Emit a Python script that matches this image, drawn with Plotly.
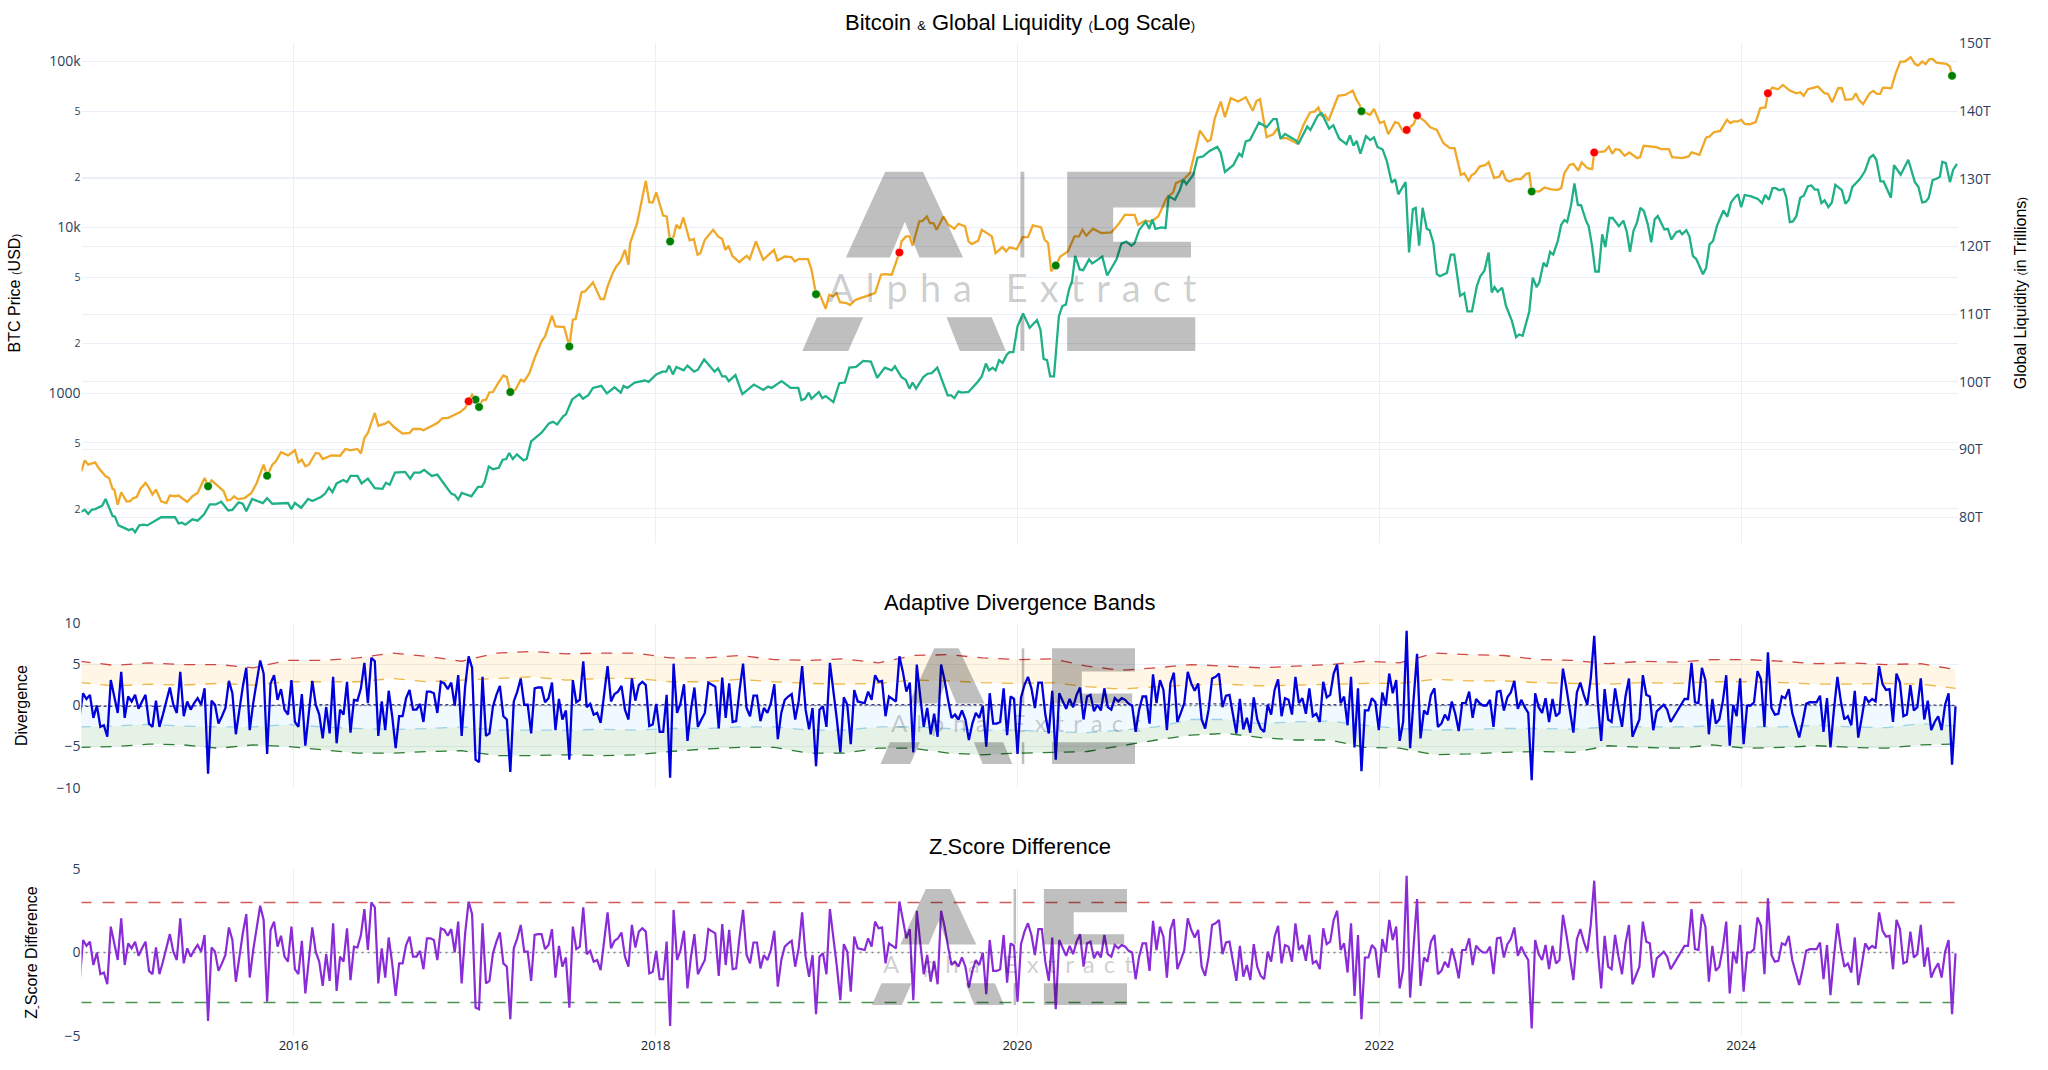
import numpy as np
import pandas as pd
import plotly.graph_objects as go
from plotly.subplots import make_subplots

FIRST_WEEK = pd.Timestamp("2014-10-26")
DAYS_PER_STEP = 7.013

# (week number, log10 of BTC price in USD)
btc_points = [
    (0.5,2.528),(1.5,2.594),(2.5,2.568),(4.5,2.582),(5.5,2.548),(7.5,2.498),(8.5,2.488),(9.5,2.422),(10,2.418),(11,2.327),
    (12,2.402),(13.5,2.347),(14.5,2.347),(15.5,2.367),(16.5,2.373),(17.5,2.422),(19,2.458),(20,2.428),(21,2.388),(22,2.418),
    (23.5,2.347),(25,2.337),(26,2.382),(27.5,2.378),(28.5,2.382),(31,2.343),(32.5,2.378),(34,2.398),(36,2.488),(37,2.438),
    (38,2.474),(39.5,2.448),(41.5,2.408),(42.5,2.353),(43.5,2.357),(44.5,2.378),(45.5,2.361),(47.5,2.367),(49.5,2.398),(51,2.458),
    (53,2.568),(54,2.502),(55.5,2.568),(56.5,2.588),(58,2.643),(60,2.624),(62,2.655),(63,2.582),(64,2.598),(65,2.558),
    (66,2.568),(68,2.639),(69,2.635),(70,2.602),(72.5,2.624),(75,2.622),(76.5,2.663),(78,2.655),(80,2.663),(81,2.635),
    (82,2.729),(83,2.759),(85,2.880),(86,2.803),(88,2.815),(89,2.829),(90.5,2.795),(93,2.755),(95,2.759),(96,2.783),
    (98,2.783),(99,2.775),(101,2.795),(103,2.819),(104.5,2.849),(106,2.849),(107.5,2.865),(109.5,2.884),(111,2.910),(112,2.950),
    (113,2.990),(114,2.960),(115,2.916),(116,2.956),(117,2.960),(118,3.004),(119,3.006),(120.5,3.060),(122,3.106),(123,3.096),
    (124,3.006),(125.5,3.020),(127,3.080),(128,3.070),(129.5,3.120),(131,3.211),(133,3.311),(134,3.341),(136,3.466),(137,3.402),
    (139.5,3.398),(141,3.281),(142,3.442),(142.8,3.446),(144.5,3.608),(145.5,3.612),(147.8,3.667),(150,3.566),(151,3.566),(152,3.643),
    (153.5,3.723),(154.5,3.763),(155.7,3.793),(157,3.863),(158,3.773),(158.5,3.904),(160.5,4.024),(163,4.279),(164,4.151),(165,4.149),
    (166,4.209),(168,4.070),(169,4.064),(170,3.914),(171,3.944),(171.8,4.014),(172.8,3.990),(173.8,4.058),(175.6,3.920),(176.8,3.928),
    (177.9,3.833),(178.7,3.843),(180,3.924),(182.4,3.984),(183.8,3.944),(185,3.928),(185.9,3.863),(186.8,3.888),(187.9,3.827),(189.9,3.789),
    (192,3.827),(192.9,3.807),(194.7,3.914),(196.8,3.803),(199.9,3.863),(200.9,3.799),(203,3.823),(204.9,3.819),(205.9,3.793),(206.9,3.807),
    (209.7,3.807),(210.7,3.743),(212,3.596),(212.9,3.602),(214.8,3.508),(215.8,3.592),(216.9,3.582),(217.9,3.602),(218.9,3.548),(220.8,3.542),
    (221.8,3.530),(223.4,3.562),(226.6,3.586),(229,3.602),(230.7,3.713),(231.8,3.717),(233.8,3.713),(234.7,3.773),(236,3.847),(236.6,3.914),
    (237.9,3.944),(238.9,3.944),(239.8,3.888),(241.7,4.034),(242.7,4.038),(243.9,4.064),(244.8,4.024),(245.8,4.024),(246.7,3.984),(248.7,4.064),
    (250.1,4.014),(251.8,3.990),(253,4.020),(254.9,4.004),(255.9,3.914),(256.8,3.898),(258.7,3.918),(259.7,3.984),(262.6,3.944),(263.7,3.843),
    (265.7,3.880),(266.7,3.853),(267.7,3.878),(269.8,3.867),(271.5,3.940),(273,3.940),(274.4,4.010),(276.8,3.998),(277.8,3.924),(278.8,3.904),
    (279.7,3.733),(281,3.769),(282.3,3.823),(284.5,3.853),(286.4,3.944),(287.7,3.944),(288.7,3.984),(289.8,3.948),(291.7,3.990),(294.1,3.964),
    (297,3.968),(298.9,4.014),(300.9,4.074),(303.7,4.074),(304.7,4.014),(306.6,4.038),(308.5,4.034),(310.5,4.064),(312.9,4.175),(314.8,4.209),
    (315.6,4.265),(317.7,4.285),(319.6,4.325),(321,4.446),(322.5,4.582),(324.7,4.516),(325.6,4.526),(326.8,4.657),(328.5,4.757),(329.7,4.663),
    (331.4,4.777),(333.5,4.757),(335.7,4.783),(337.7,4.701),(338.8,4.761),(339.8,4.771),(341.7,4.542),(343.6,4.560),(344.8,4.596),(345.8,4.536),
    (347.5,4.536),(350.3,4.506),(352.3,4.616),(354.2,4.691),(355.6,4.697),(356.6,4.721),(357.5,4.671),(358.5,4.677),(359.5,4.641),(362.3,4.791),
    (364.3,4.797),(366.5,4.823),(367.6,4.767),(368.5,4.737),(369,4.699),(371.5,4.677),(372.6,4.713),(374.3,4.627),(375.5,4.637),(376.7,4.560),
    (378.7,4.633),(379.6,4.627),(381,4.576),(382,4.586),(384,4.620),(385,4.673),(387.3,4.637),(388.8,4.602),(390.7,4.586),(392.6,4.506),
    (394.5,4.476),(395.8,4.476),(397.6,4.315),(398.6,4.325),(399.8,4.281),(400.8,4.315),(401.7,4.325),(403,4.365),(404.6,4.373),(405.6,4.392),
    (407.2,4.295),(408.7,4.305),(409.5,4.341),(410.6,4.285),(411.6,4.275),(413.5,4.291),(414.9,4.289),(416.4,4.321),(417.3,4.325),(418,4.215),
    (420.2,4.215),(421.7,4.239),(423.6,4.227),(425.5,4.225),(426.5,4.235),(427.4,4.325),(428.9,4.375),(430,4.382),(431.4,4.341),(432.4,4.390),
    (434.1,4.355),(435.4,4.349),(436,4.450),(439,4.456),(440.2,4.486),(441.2,4.442),(442.1,4.470),(443.3,4.466),(444.7,4.430),(446.1,4.450),
    (448.4,4.416),(449.2,4.422),(450.2,4.490),(453.8,4.482),(455.3,4.470),(457.5,4.470),(458.4,4.422),(461.3,4.416),(463.2,4.426),(464,4.450),
    (466.3,4.436),(468.2,4.540),(469.2,4.546),(470.4,4.572),(472.3,4.580),(474.2,4.647),(475.2,4.627),(476.1,4.637),(477.4,4.637),(478.3,4.647),
    (479.3,4.622),(480.7,4.620),(482.5,4.633),(483.8,4.717),(485.3,4.721),(486,4.807),(487.3,4.841),(488.9,4.831),(490.3,4.857),(492.3,4.823),
    (494.2,4.807),(495.3,4.813),(496.3,4.791),(497.5,4.831),(499,4.841),(500.4,4.847),(502.3,4.807),(503.3,4.803),(504.5,4.753),(506.2,4.837),
    (507.3,4.837),(508.3,4.767),(510.3,4.771),(511.3,4.807),(512.2,4.767),(513.4,4.741),(515.3,4.807),(516.3,4.821),(517.4,4.803),(518.3,4.803),
    (519.1,4.841),(521.5,4.837),(522.8,4.928),(524.1,4.998),(525.4,4.998),(527.1,5.024),(528.3,4.984),(529.2,4.974),(530.4,4.998),(531.4,4.982),
    (532.4,5.012),(533.4,5.014),(534.5,4.992),(537.4,4.984),(538.4,4.968),(539,4.912),
]

# (week number, global liquidity in trillions)
liquidity_points = [
    (0.5,80.8),(1.5,81.1),(2.5,80.5),(3.5,81.1),(4.5,81.2),(6.5,81.7),(7.5,82.7),(9.5,80.2),(10.2,80.1),(11.2,78.8),
    (13,78.4),(14.2,78.1),(15.2,78.3),(16,77.8),(17.2,78.8),(18.5,78.9),(19.5,78.8),(23.5,80.0),(27.5,80.0),(28.5,79.1),
    (29.5,79.2),(30.5,78.9),(32.5,79.7),(34,79.5),(35.8,80.4),(37.5,81.9),(39.2,81.9),(40.8,82.3),(42.8,81.0),(44,81.1),
    (45.8,82.2),(47,82.0),(48,80.9),(49.7,82.7),(52.8,82.1),(54,82.8),(55.5,82.0),(60,82.1),(61,81.2),(62,82.1),
    (63.8,81.4),(65.8,82.7),(67,82.4),(69.5,83.0),(70.7,83.5),(71.8,84.4),(72.8,83.7),(74,85.0),(75.9,85.5),(77,85.2),
    (78,86.1),(80,86.1),(81.2,85.0),(83,85.7),(85,84.3),(87.2,84.2),(88.2,85.1),(89.3,84.8),(90.8,86.6),(93.7,86.7),
    (95.2,85.7),(96.3,86.6),(98,86.6),(99.2,87.0),(101.4,86.1),(103,86.3),(104.7,85.1),(107,83.5),(108,83.3),(109,82.6),
    (110,83.6),(112.8,83.1),(114.7,84.5),(115.8,84.5),(116.6,85.2),(117.8,87.5),(119,87.1),(120.7,87.3),(121.8,88.5),(122.8,88.6),
    (123.7,89.5),(124.7,88.6),(125.9,89.3),(127.8,88.4),(128.7,88.6),(130,91.2),(133,92.5),(135.2,93.9),(136.3,94.1),(137.5,93.7),
    (139.2,94.9),(140,95.2),(141.8,97.4),(142.4,97.6),(143.9,98.2),(144.9,97.5),(146.4,98.0),(147.8,99.1),(150.2,99.4),(151.8,98.3),
    (154,99.2),(155.8,98.4),(156.6,99.4),(157.7,99.1),(159.8,99.9),(162.7,100.2),(163.8,100.0),(166,101.1),(167.8,101.5),(168.9,101.5),
    (169.7,102.4),(170.8,101.1),(171.8,102.2),(173.9,101.7),(175,102.4),(176.9,101.5),(178,101.8),(179.8,103.3),(182.8,101.5),(183.8,102.0),
    (185,100.8),(186,100.8),(186.9,100.1),(188.8,101.0),(190.8,98.2),(194.1,99.6),(196.8,98.8),(198.2,99.3),(199.2,99.1),(202.1,100.1),
    (204.7,99.1),(206.9,99.1),(207.8,97.3),(208.8,97.5),(209.9,98.4),(210.7,97.5),(212.8,98.5),(213.8,97.6),(214.8,97.9),(217,97.0),
    (218.7,99.8),(220.3,99.9),(221.6,102.1),(223.5,102.2),(225.6,103.1),(227.8,103.0),(229.6,100.6),(231.8,102.1),(233.8,101.7),(234.7,102.3),
    (236.6,100.7),(237.8,100.3),(238.9,99.0),(239.8,99.9),(240.8,99.0),(242.9,100.7),(244.1,101.2),(245.3,101.3),(246.9,102.1),(249.9,98.0),
    (250.9,98.0),(251.8,97.6),(253,98.6),(253.9,98.4),(255.9,98.5),(258.7,100.1),(259.7,100.8),(260.9,102.7),(261.8,101.7),(262.8,102.1),
    (263.7,101.7),(264.7,103.2),(265.7,102.8),(266.9,104.0),(267.7,104.4),(268.8,104.4),(270,108.2),(271.6,110.1),(273.5,108.0),(275.6,109.1),
    (276.6,107.7),(277.5,103.4),(278.5,103.2),(279.4,100.8),(280.5,100.8),(281.9,109.7),(282.9,111.2),(283.9,111.4),(284.8,113.6),(285.7,114.9),
    (286.6,118.6),(287.9,116.6),(288.9,116.5),(290.6,118.1),(291.5,117.5),(294.4,118.5),(295.8,115.7),(298.5,118.1),(299.9,120.4),(301.3,120.7),
    (302.8,120.1),(303.7,120.5),(305,122.4),(306.9,123.7),(307.9,122.6),(308.8,124.0),(309.7,122.6),(311.4,122.8),(312.6,122.7),(313.5,127.4),
    (315.3,126.9),(316.7,128.3),(317.7,129.9),(318.6,129.2),(320.6,130.6),(321.8,133.1),(323.4,133.3),(325.3,134.1),(327.5,134.7),(328.5,133.8),
    (329.7,131.0),(332.1,132.0),(333.8,133.7),(334.6,133.3),(335.7,135.5),(336.9,135.7),(339.5,138.3),(341.7,137.6),(343.6,138.8),(344.6,138.8),
    (345.7,135.9),(347,136.6),(350.3,135.6),(350.8,135.1),(353.4,137.7),(354.3,137.2),(356.4,139.3),(357.5,139.7),(359.7,137.4),(360.9,137.9),
    (362.6,135.9),(364.7,135.1),(365.7,136.4),(366.7,134.9),(367.6,135.6),(368.7,133.7),(370.3,136.3),(371.5,135.7),(372.6,136.1),(373.6,134.7),
    (375.1,134.3),(376.3,132.6),(377.7,129.4),(378.7,129.9),(379.6,127.7),(381.7,129.5),(382.7,119.1),(383.8,125.5),(384.6,125.7),(385.6,120.1),
    (386.6,125.7),(387.8,122.6),(388.6,122.4),(389.7,120.5),(390.7,115.9),(391.6,115.6),(393.6,116.1),(394.7,118.8),(395.7,118.8),(397.4,112.7),
    (398.6,113.1),(399.5,110.4),(400.8,110.4),(402.2,114.1),(403.2,115.6),(404.4,116.4),(405.6,119.1),(406.5,113.2),(407.3,114.0),(408.2,113.3),
    (409.5,113.9),(410.6,111.2),(412.3,109.0),(413.5,106.6),(414.4,107.0),(415.4,106.8),(417.3,110.4),(418.3,115.4),(419.4,114.0),(420.2,114.7),
    (421.4,117.6),(422.3,117.0),(423.3,119.2),(424.2,118.8),(425.5,120.8),(426.5,123.2),(427.4,123.9),(428.2,123.6),(429.3,126.0),(430.3,129.3),
    (431.3,126.1),(432.2,126.1),(433.7,123.7),(434.4,123.0),(435.4,120.0),(436.3,116.3),(437.3,116.3),(438.3,121.8),(439.2,119.9),(440.4,124.2),
    (441.3,124.2),(443.1,123.0),(444.4,123.8),(445.4,122.1),(446.3,119.2),(447.3,122.3),(448.3,123.5),(449.3,125.7),(450.3,125.2),(451.4,123.3),
    (452.4,120.6),(453.4,124.0),(454.3,124.5),(456.2,122.5),(457.2,122.6),(458.2,121.0),(459.6,122.1),(460.6,122.3),(461.3,121.8),(462.5,122.4),
    (463.4,121.5),(464.4,118.6),(465.4,118.1),(467.3,115.9),(468.2,116.8),(469.2,120.3),(470.2,120.8),(471.3,123.0),(473.2,125.3),(474.3,124.4),
    (475.4,126.5),(476.4,127.2),(477.4,127.7),(478.3,125.8),(479.3,127.6),(481.2,127.4),(483.1,127.0),(484.3,126.4),(485.2,127.6),(486.3,126.9),
    (487.3,128.6),(488.3,128.6),(489.2,128.3),(490.5,128.5),(491.3,127.2),(492.3,123.6),(493.2,123.7),(494.2,124.5),(495.3,127.2),(496.3,127.5),
    (497.5,128.9),(498.5,129.0),(499.5,128.4),(500.4,128.4),(501.4,126.4),(502.3,126.8),(503.4,125.8),(504.4,126.5),(505.4,129.1),(507.3,128.3),
    (508.3,126.3),(509.3,126.9),(510.3,128.8),(512.4,129.9),(513.9,131.1),(515.3,133.1),(516.3,133.5),(517.2,132.8),(518.4,129.6),(519.3,129.6),
    (520.3,128.4),(521.4,127.2),(522.3,132.0),(524.2,130.6),(526.4,132.8),(528.3,129.5),(529.3,128.8),(530.4,126.5),(531.4,126.6),(532.3,127.2),
    (533.4,129.8),(534.5,130.0),(535.5,130.3),(536.2,132.5),(537.2,132.3),(538.4,129.5),(539.3,131.3),(540.4,132.2),
]

buy_weeks = [37, 54, 114, 115, 124, 141, 170, 212, 281, 369, 418, 539]
buy_log10 = [2.438, 2.502, 2.960, 2.916, 3.006, 3.281, 3.914, 3.596, 3.769, 4.699, 4.215, 4.912]
sell_weeks = [112, 236, 382, 385, 436, 486]
sell_log10 = [2.950, 3.847, 4.586, 4.673, 4.450, 4.807]

divergence = [
    -1.5,1.5,.8,1.3,-1.5,0,-2.6,-2.4,-3.8,3.1, 1.1,-.9,4.1,-1.5,1.1,.5,1.3,-.4,.5,1.3,
    -2.2,-2.6,.6,-2.6,-1.1,.5,2.2,.1,-.9,4.1, -1.3,.5,-.5,.3,.9,.1,2.1,-8.3,.6,.1,
    -2.2,-1.3,-.3,3,1.5,-3.5,-.5,2.3,4.6,-3, .3,3.1,5.5,3.9,-5.9,2.7,3.7,.7,2,-.5,
    -1.1,3.1,-2,-2.6,1.4,-4.9,-.9,3,.1,-1.1, -4,-.2,-3.4,3.5,-4.6,-.5,-1.1,2.9,-3.3,.7,
    .6,2.1,5.2,.3,5.8,5.4,-3.7,.5,-3,1.8, -1.3,-5.2,-1.3,-1.3,.9,1.9,-.5,-.5,.2,-2,
    1.7,1.7,1.5,-.9,2.9,2.7,2,2.8,0,3.7, -3.7,2.3,6,4.6,-6.6,-6.9,3.5,-3.7,-3.4,-.1,
    1.3,2.4,-1.3,-1.7,-8.1,.5,1.7,3.3,.1,.1, -3.4,2.1,2.2,2.2,.4,.9,2.8,-3,.8,-1.7,
    -.6,-6.6,3.1,.4,.7,5.4,-.2,.2,-1.1,-.9, -2.1,1.1,4.8,.5,1.4,1.7,2.4,-.5,-1.7,3.3,
    .6,2.5,2.9,2.5,-2.5,-2.3,.2,-3.2,-3.2,1.3, -8.8,5.1,-.9,.3,2.6,-4.3,-.5,2.2,-2.6,-1.7,
    -.9,2.8,2.5,2.3,-2.8,3.4,-1.5,2.7,-2,-1.9, 1.9,5.1,-.3,-1.3,1.2,1.2,-1.9,-.3,-.9,.3,
    2.6,-4.1,-.9,.7,1.1,1.4,-1.7,.5,4.8,-.5, -2.9,-.3,-7.4,-.5,-.1,-2.6,5.2,1.9,-1.7,-5.7,
    1,.1,-4.7,1.9,.5,.4,.3,1.7,.7,3.7, 2.9,3,-1.3,1.1,.8,.5,6,4.1,1.7,2.8,
    -5.7,5,1.1,-2.6,-.3,-3.5,-1,-3.8,5,3.1, .7,-1.5,-1.1,-1.7,-.6,-1.7,-4.2,-2.2,-.9,-1.5,
    0,-5,1.5,-2.2,-2.2,-2,2.1,-3.6,1.1,.8, -5.9,1,2.5,3.5,2.1,-.3,2.8,2.8,-1.1,-3.4,
    1.8,-6.6,1.5,.5,-.4,.8,-.2,1.3,2.2,-1.7, 1.1,1.3,-.7,.1,-.6,2.1,-.2,-.5,.9,.5,
    .9,.7,.2,0,-3.2,-.5,1.1,1.1,-2.2,3.8, .3,3.1,1.9,-3,2.7,4,-2,-.9,.3,4.1,
    2.7,1.8,2.7,-1.7,-2.8,-.5,3.3,3.5,3.9,-.2, 1.2,1.3,-1.3,-3.4,.8,-2.9,-1.5,-3.3,1,-1.7,
    -2.8,-3.2,.1,-1.1,1.9,3.2,-1.3,.9,.7,-1.1, 3.5,.3,.9,-1,2.1,-1.3,-1,-2,2.9,1,
    1.3,3.9,5,.3,1.1,-2.4,3.5,-5.1,2.1,-8, -.6,-.6,.9,.4,-3,1.6,0,3.9,1.5,3.1,
    -4.3,-2,9.1,-5.2,.7,6.3,-4,-.6,-1.1,1.3, 2.1,-2.6,-2.2,-1.1,-1.8,.5,-1,-3.1,.3,.3,
    1.7,-1.5,.8,.3,0,0,.7,-2.6,1.7,1.8, -.6,1,1.6,3,-.4,.7,-.2,-.9,-9.1,1.5,
    -.2,-.9,.9,-2,.8,-1.3,-.9,4.5,2.1,-.5, -3.3,1.6,2.8,1.3,.1,3.3,8.5,.5,-4.3,2,
    -1.7,-2,2.1,-.5,-2.6,1.1,3.3,-3.8,-2.8,-1.7, 3.7,1.3,1.1,-3,-.7,-.3,.1,-.5,-2,-1.3,
    -.6,.2,.8,.8,5.2,.4,.3,4.6,3.1,-3.5, .8,-2.2,-1.7,.5,3.7,-4.9,.1,-1.3,3.3,-4.7,
    0,0,.4,4.2,3.2,-2.6,6.5,-.3,-1.1,-1, 1.1,.9,2,-.9,-2.4,-3.9,-2,.2,.4,.4,
    .4,1.2,-3.2,.9,-5.1,-.5,3.5,.5,-1.7,-1.3, -2.4,1.8,-3.9,-1.5,1.1,.4,.8,.5,4.8,2.6,
    1.9,2,-2,3.9,2.8,-1.3,-1.1,2.5,-.6,-.2, 3.3,-1.7,.6,-3,-2,-1.3,-3,.1,1.5,-7.2,
    -.1,
]

z_score = [
    -1.9,.75,.4,.65,-.75,0,-1.3,-1.2,-1.9,1.55, .55,-.45,2.05,-.75,.55,.25,.65,-.2,.25,.65,
    -1.1,-1.3,.3,-1.3,-.55,.25,1.1,.05,-.45,2.05, -.65,.25,-.25,.15,.45,.05,1.05,-4.1,.3,.05,
    -1.1,-.65,-.15,1.5,.75,-1.75,-.25,1.15,2.3,-1.5, .15,1.55,2.8,1.95,-2.95,1.35,1.85,.35,1,-.25,
    -.55,1.55,-1,-1.3,.7,-2.45,-.45,1.5,.05,-.55, -2,-.1,-1.7,1.75,-2.3,-.25,-.55,1.45,-1.65,.35,
    .3,1.05,2.6,.15,3.0,2.7,-1.85,.25,-1.5,.9, -.65,-2.6,-.65,-.65,.45,.95,-.25,-.25,.1,-1,
    .85,.85,.75,-.45,1.45,1.35,1,1.4,0,1.85, -1.85,1.15,3.05,2.3,-3.3,-3.4,1.75,-1.85,-1.7,-.05,
    .65,1.2,-.65,-.85,-4.0,.25,.85,1.65,.05,.05, -1.7,1.05,1.1,1.1,.2,.45,1.4,-1.5,.4,-.85,
    -.3,-3.3,1.55,.2,.35,2.7,-.1,.1,-.55,-.45, -1.05,.55,2.4,.25,.7,.85,1.2,-.25,-.85,1.65,
    .3,1.25,1.45,1.25,-1.25,-1.15,.1,-1.6,-1.6,.65, -4.4,2.55,-.45,.15,1.3,-2.15,-.25,1.1,-1.3,-.85,
    -.45,1.4,1.25,1.15,-1.4,1.7,-.75,1.35,-1,-.95, .95,2.55,-.15,-.65,.6,.6,-.95,-.15,-.45,.15,
    1.3,-2.05,-.45,.35,.55,.7,-.85,.25,2.4,-.25, -1.45,-.15,-3.7,-.25,-.05,-1.3,2.6,.95,-.85,-2.85,
    .5,.05,-2.35,.95,.25,.2,.15,.85,.35,1.85, 1.45,1.5,-.65,.55,.4,.25,3.05,2.05,.85,1.4,
    -2.85,2.5,.55,-1.3,-.15,-1.75,-.5,-1.9,2.5,1.55, .35,-.75,-.55,-.85,-.3,-.85,-2.1,-1.1,-.45,-.75,
    0,-2.5,.75,-1.1,-1.1,-1,1.05,-1.8,.55,.4, -2.95,.5,1.25,1.75,1.05,-.15,1.4,1.4,-.55,-1.7,
    .9,-3.4,.75,.25,-.2,.4,-.1,.65,1.1,-.85, .55,.65,-.35,.05,-.3,1.05,-.1,-.25,.45,.25,
    .45,.35,.1,0,-1.6,-.25,.55,.55,-1.1,1.9, .15,1.55,.95,-1.5,1.35,2,-1,-.45,.15,2.05,
    1.35,.9,1.35,-.85,-1.4,-.25,1.65,1.75,1.95,-.1, .6,.65,-.65,-1.7,.4,-1.45,-.75,-1.65,.5,-.85,
    -1.4,-1.6,.05,-.55,.95,1.6,-.65,.45,.35,-.55, 1.75,.15,.45,-.5,1.05,-.65,-.5,-1,1.45,.5,
    .65,1.95,2.5,.15,.55,-1.2,1.75,-2.6,1.05,-4.0, -.3,-.3,.45,.2,-1.5,.8,0,1.95,.75,1.55,
    -2.15,-1,4.6,-2.7,.35,3.2,-2,-.3,-.55,.65, 1.05,-1.3,-1.1,-.55,-.9,.25,-.5,-1.55,.15,.15,
    .85,-.75,.4,.15,0,0,.35,-1.3,.85,.9, -.3,.5,.8,1.5,-.2,.35,-.1,-.45,-4.55,.75,
    -.1,-.45,.45,-1,.4,-.65,-.45,2.25,1.05,-.25, -1.65,.8,1.4,.65,.05,1.65,4.3,.25,-2.15,1,
    -.85,-1,1.05,-.25,-1.3,.55,1.65,-1.9,-1.4,-.85, 1.85,.65,.55,-1.5,-.35,-.15,.05,-.25,-1,-.65,
    -.3,.1,.4,.4,2.6,.2,.15,2.3,1.55,-1.75, .4,-1.1,-.85,.25,1.85,-2.45,.05,-.65,1.65,-2.35,
    0,0,.2,2.1,1.6,-1.3,3.25,-.15,-.55,-.5, .55,.45,1,-.45,-1.2,-1.95,-1,.1,.2,.2,
    .2,.6,-1.6,.45,-2.55,-.25,1.75,.25,-.85,-.65, -1.2,.9,-1.95,-.75,.55,.2,.4,.25,2.4,1.3,
    .95,1,-1,1.95,1.4,-.65,-.55,1.25,-.3,-.1, 1.65,-.85,.3,-1.5,-1,-.65,-1.5,.05,.75,-3.7,
    -.05,
]

# bands sampled every 10 weeks
band_weeks = list(range(0, 541, 10))
upper_band = [5.4,4.9,5.2,5.0,5.0,4.6,5.5,5.5,5.8,6.4,6.0,5.4,6.4,6.6,6.3,6.4,6.4,5.8,5.8,6.1,5.6,5.5,5.7,5.2,6.1,6.2,5.8,5.6,5.7,4.8,4.3,4.6,5.0,4.8,4.6,4.8,5.0,5.4,5.2,6.4,6.2,6.1,5.6,5.5,5.1,5.4,5.3,5.6,5.6,5.4,5.1,5.2,5.0,5.1,4.4]
warm_band = [2.8,2.4,2.6,2.5,2.7,2.5,2.9,2.9,2.9,3.3,2.9,3.1,3.3,3.5,3.1,3.3,3.3,2.9,2.9,3.2,2.9,2.7,2.6,2.7,3.1,3.0,2.8,2.7,2.8,2.3,2.0,2.3,2.5,2.6,2.4,2.5,2.6,2.7,2.7,3.2,3.0,3.0,2.8,2.7,2.6,2.8,2.7,2.9,2.9,2.8,2.6,2.6,2.7,2.6,2.1]
mid_band = [-.1,-.1,-.1,-.1,.1,-.1,.1,.1,.1,.1,.1,.1,.1,.1,.1,.1,.1,.1,.1,.1,.1,.1,.1,.1,.1,.1,.1,.1,.1,.1,.1,.1,.2,.2,.2,.1,.1,.1,.1,.1,.1,.1,.1,.1,.1,.1,.1,.1,.1,.1,.1,.1,.1,.1,0]
cool_band = [-2.6,-2.5,-2.3,-2.5,-2.6,-2.6,-2.3,-2.6,-2.8,-2.9,-2.8,-2.6,-3.0,-3.0,-3.0,-2.9,-3.0,-2.8,-2.8,-2.6,-2.6,-3.0,-3.0,-2.6,-2.6,-2.8,-3.0,-3.0,-3.2,-3.3,-3.0,-2.6,-1.7,-1.7,-2.2,-2.0,-1.9,-2.4,-2.8,-3.0,-2.9,-2.8,-2.8,-2.9,-2.6,-2.6,-2.6,-2.5,-2.6,-2.6,-2.4,-2.6,-2.7,-2.2,-2.5]
lower_band = [-5.1,-5.0,-4.7,-4.8,-5.2,-4.8,-5.0,-5.4,-5.8,-5.8,-5.6,-5.5,-6.1,-6.1,-6.0,-6.1,-6.0,-5.6,-5.3,-5.1,-5.1,-5.8,-5.8,-5.2,-5.2,-5.8,-6.0,-5.8,-5.7,-5.6,-4.9,-4.2,-3.6,-3.4,-3.9,-4.2,-4.2,-5.1,-5.2,-6.0,-5.9,-5.7,-5.6,-5.7,-4.9,-5.1,-5.2,-4.8,-5.2,-5.1,-4.9,-5.1,-5.2,-4.8,-4.7]

z_upper = 3
z_middle = 0
z_lower = -3

W, H = 2048, 1070


def week_dates(weeks):
    return FIRST_WEEK + pd.to_timedelta(np.array(weeks, dtype=float) * DAYS_PER_STEP, unit="D")


btc_weeks, btc_log10 = zip(*btc_points)
liq_weeks, liq_values = zip(*liquidity_points)
all_weeks = list(range(len(divergence)))
z_weeks = list(range(len(z_score)))

fig = make_subplots(rows=3, cols=1, shared_xaxes=True, specs=[[{"secondary_y": True}], [{}], [{}]])

# Top panel
fig.add_trace(go.Scatter(x=week_dates(btc_weeks), y=10 ** np.array(btc_log10), mode="lines", name="BTC Price",
                         line=dict(color="#EFA828", width=2.3)), row=1, col=1, secondary_y=False)
fig.add_trace(go.Scatter(x=week_dates(liq_weeks), y=liq_values, mode="lines", name="Global Liquidity",
                         line=dict(color="#1FB088", width=2.3)), row=1, col=1, secondary_y=True)
fig.add_trace(go.Scatter(x=week_dates(buy_weeks), y=10 ** np.array(buy_log10), mode="markers", name="Buy",
                         marker=dict(color="green", size=8.5, line=dict(color="white", width=0.5))),
              row=1, col=1, secondary_y=False)
fig.add_trace(go.Scatter(x=week_dates(sell_weeks), y=10 ** np.array(sell_log10), mode="markers", name="Sell",
                         marker=dict(color="red", size=8.5, line=dict(color="white", width=0.5))),
              row=1, col=1, secondary_y=False)

# Divergence bands
band_dates = week_dates(band_weeks)
dash_style = "11px,10px"
fig.add_trace(go.Scatter(x=band_dates, y=upper_band, mode="lines", name="Upper",
                         line=dict(color="rgba(200,40,40,0.85)", width=1.3, dash=dash_style)), row=2, col=1)
fig.add_trace(go.Scatter(x=band_dates, y=warm_band, mode="lines", name="Upper inner", fill="tonexty",
                         fillcolor="rgba(255,165,0,0.10)",
                         line=dict(color="rgba(235,170,40,0.85)", width=1.3, dash=dash_style)), row=2, col=1)
fig.add_trace(go.Scatter(x=band_dates, y=mid_band, mode="lines", name="Middle",
                         line=dict(color="rgba(40,40,130,0.9)", width=1.3, dash="3px,3px")), row=2, col=1)
fig.add_trace(go.Scatter(x=band_dates, y=cool_band, mode="lines", name="Lower inner", fill="tonexty",
                         fillcolor="rgba(135,206,235,0.12)",
                         line=dict(color="rgba(150,205,230,0.9)", width=1.3, dash=dash_style)), row=2, col=1)
fig.add_trace(go.Scatter(x=band_dates, y=lower_band, mode="lines", name="Lower", fill="tonexty",
                         fillcolor="rgba(0,128,0,0.10)",
                         line=dict(color="rgba(20,110,30,0.9)", width=1.3, dash=dash_style)), row=2, col=1)
fig.add_trace(go.Scatter(x=week_dates([all_weeks[0], all_weeks[-1]]), y=[z_middle, z_middle], mode="lines", name="Zero",
                         line=dict(color="gray", width=1.3, dash="2px,3px")), row=2, col=1)
fig.add_trace(go.Scatter(x=week_dates(all_weeks), y=divergence, mode="lines", name="Divergence",
                         line=dict(color="#0000DC", width=2.3)), row=2, col=1)

# Z-score
ends = week_dates([z_weeks[0], z_weeks[-1]])
fig.add_trace(go.Scatter(x=ends, y=[z_upper, z_upper], mode="lines", name="+3",
                         line=dict(color="rgba(200,50,50,0.8)", width=1.5, dash="12px,11px")), row=3, col=1)
fig.add_trace(go.Scatter(x=ends, y=[z_lower, z_lower], mode="lines", name="-3",
                         line=dict(color="rgba(30,120,40,0.8)", width=1.5, dash="12px,11px")), row=3, col=1)
fig.add_trace(go.Scatter(x=ends, y=[z_middle, z_middle], mode="lines", name="0",
                         line=dict(color="gray", width=1.5, dash="2px,4px")), row=3, col=1)
fig.add_trace(go.Scatter(x=week_dates(z_weeks), y=z_score, mode="lines", name="Z-Score",
                         line=dict(color="#8A2BD8", width=2.2)), row=3, col=1)


def py(pixels):
    return (H - pixels) / H


x_domain = [81.5 / W, 1958 / W]
x_range = ["2014-10-30", "2025-03-14"]
tick_font = dict(family="Open Sans, sans-serif", size=14, color="#2a3f5f")
for name in ("xaxis", "xaxis2", "xaxis3"):
    fig.layout[name].update(domain=x_domain, range=x_range, dtick="M24", tick0="2016-01-01", automargin=False,
                            tickformat="%Y", showticklabels=False, showline=False, zeroline=False)
fig.layout.xaxis3.update(showticklabels=True, tickfont=dict(family="Open Sans, sans-serif", size=13, color="#222222"),
                         ticks="")

small = '<span style="font-size:{}px">{}</span>'
axis_font = dict(family="Liberation Sans", size=16, color="black")
fig.update_layout(
    template="plotly_white", width=W, height=H, autosize=False, showlegend=False,
    margin=dict(l=0, r=0, t=0, b=0), plot_bgcolor="white", paper_bgcolor="white",
    yaxis=dict(type="log", range=[2.096, 5.108], dtick="D2", domain=[py(543), py(43.3)], tickfont=tick_font,
               automargin=False,
               title=dict(text="BTC Price " + small.format(11, "(") + "USD" + small.format(11, ")"), font=axis_font, standoff=23)),
    yaxis2=dict(range=[76.2, 150], dtick=10, tick0=0, ticksuffix="T", domain=[py(543), py(43.3)], automargin=False,
                side="right", tickfont=tick_font, showgrid=True, gridcolor="#EBF0F8", zeroline=False,
                title=dict(text="Global Liquidity " + small.format(11, "(") + "in Trillions" + small.format(11, ")"), font=axis_font, standoff=24)),
    yaxis3=dict(range=[-10, 10], dtick=5, domain=[py(787.6), py(623.5)], tickfont=tick_font, zeroline=False, automargin=False,
                title=dict(text="Divergence", font=axis_font, standoff=24)),
    yaxis4=dict(range=[-5, 5], dtick=5, domain=[py(1036), py(869)], tickfont=tick_font, zeroline=False, automargin=False,
                title=dict(text="Z<sub>-</sub>Score Difference", font=axis_font, standoff=22)),
)

titles = [
    ("Bitcoin " + small.format(13, "&amp;") + " Global Liquidity " + small.format(13, "(") + "Log Scale" + small.format(13, ")"), 22),
    ("Adaptive Divergence Bands", 602),
    ("Z<sub>-</sub>Score Difference", 848),
]
for text, y in titles:
    fig.add_annotation(text=text, xref="paper", yref="paper", x=1020 / W, y=py(y), showarrow=False,
                       xanchor="center", yanchor="middle", font=dict(family="Liberation Sans", size=22, color="black"))

# Alpha Extract watermark, drawn as one logo per panel
logo_parts = [
    [(.111, .478), (.211, 0), (.307, 0), (.409, .478), (.298, .478), (.261, .279), (.223, .478)],
    [(.037, .812), (.155, .812), (.117, 1), (0, 1)],
    [(.367, .812), (.482, .812), (.518, 1), (.401, 1)],
    [(.555, 0), (.565, 0), (.565, .478), (.555, .478)],
    [(.555, .812), (.565, .812), (.565, 1), (.555, 1)],
    [(.674, 0), (1, 0), (1, .2), (.791, .2), (.791, .39), (.989, .39), (.989, .478), (.674, .478)],
    [(.674, .812), (1, .812), (1, 1), (.674, 1)],
]
logos = [(802.3, 1195.3, 171.7, 351, 38, 12), (880.5, 1135, 648.3, 764, 24, 9), (872, 1127, 889, 1005, 24, 9)]
for x0, x1, y0, y1, size, spacing in logos:
    for part in logo_parts:
        path = "M " + " L ".join(f"{(x0 + a * (x1 - x0)) / W:.5f},{py(y0 + b * (y1 - y0)):.5f}" for a, b in part) + " Z"
        fig.add_shape(type="path", path=path, xref="paper", yref="paper", layer="above", line_width=0,
                      fillcolor="rgba(0,0,0,0.25)")
    fig.add_annotation(text=f'<span style="letter-spacing:{spacing}px">Alpha Extract</span>', xref="paper", yref="paper",
                       x=(x0 + 0.55 * (x1 - x0)) / W, y=py(y0 + 0.645 * (y1 - y0)), showarrow=False,
                       xanchor="center", yanchor="middle",
                       font=dict(family="Lato", size=size, color="rgba(0,0,0,0.2)"))

fig.write_html("out.html", post_script="document.body.style.margin='0';", config={"displayModeBar": False})
